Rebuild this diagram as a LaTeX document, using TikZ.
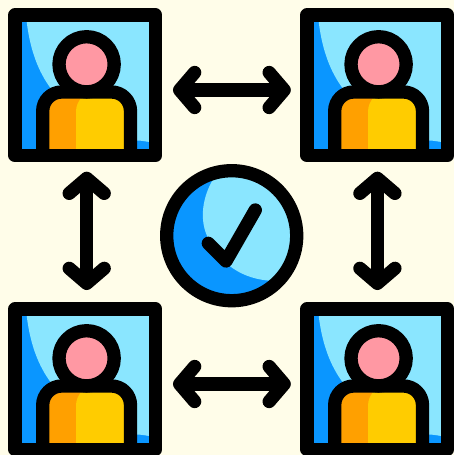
\documentclass[tikz,border=0pt]{standalone}
\usetikzlibrary{arrows.meta}
\definecolor{paper}{HTML}{FFFDE9}
\definecolor{sky}{HTML}{8AE6FF}
\definecolor{deep}{HTML}{0A96FF}
\definecolor{skin}{HTML}{FF98A3}
\definecolor{shirt}{HTML}{FFCC00}
\definecolor{sleeve}{HTML}{FFA000}
\tikzset{
  card/.pic={
    \fill[deep] (15,15) rectangle (155.5,155.5);
    \fill[sky] (26,15) .. controls (29,48) and (38,72) .. (52,90) -- (90,120)
      -- (137,140.5) .. controls (141,140.5) and (146,141.5) .. (155.5,143) -- (155.5,15) -- cycle;
    \fill[sleeve,rounded corners=19pt] (42.7,155) -- (42.7,92) -- (130.5,92) -- (130.5,155) -- cycle;
    \begin{scope}
      \clip[rounded corners=19pt] (42.7,155) -- (42.7,92) -- (130.5,92) -- (130.5,155) -- cycle;
      \fill[shirt] (76,155) -- (76,112) .. controls (76,106) and (78,101) .. (83,96) -- (135,96) -- (135,155) -- cycle;
    \end{scope}
    \draw[outline,fill=skin] (86.6,64.3) circle[radius=27.6];
    \draw[outline,rounded corners=19pt] (42.7,155) -- (42.7,92) -- (130.5,92) -- (130.5,155);
    \draw[outline] (15,15) rectangle (155.5,155.5);
    \coordinate (-e) at (173,90);
    \coordinate (-w) at (-1.2,90);
    \coordinate (-s) at (86.7,171.7);
    \coordinate (-n) at (86.7,-4);
  },
  outline/.style={black,line width=13.3pt,line join=round,line cap=round},
  link/.style={outline,line cap=butt,{Straight Barb[round,length=15pt,width=35pt]}-{Straight Barb[round,length=15pt,width=35pt]}}
}
\begin{document}
\begin{tikzpicture}[x=1pt,y=-1pt]
  \fill[paper] (0,0) rectangle (454,455);
  \useasboundingbox (0,0) rectangle (454,455);

  \pic (tl) at (0,0) {card};
  \pic (tr) at (292,0) {card};
  \pic (bl) at (0,294) {card};
  \pic (br) at (292,294) {card};

  \draw[link] (tl-e) -- (tr-w);
  \draw[link] (bl-e) -- (br-w);
  \draw[link] (tl-s) -- (bl-n);
  \draw[link] ([xshift=-1.3pt]tr-s) -- ([xshift=-1.3pt]br-n);

  % centre badge
  \begin{scope}
    \clip (231.7,235.7) circle[radius=65];
    \fill[deep] (160,164) rectangle (304,308);
    \fill[sky] (214,172) -- (214,178) .. controls (203,195) and (198,220) .. (209,240)
      .. controls (220,262) and (240,280) .. (275,281) -- (304,281) -- (304,172) -- cycle;
  \end{scope}
  \draw[outline] (231.7,235.7) circle[radius=65];
  \draw[outline] (208.3,243.3) -- (226,261) -- (255.3,210);
\end{tikzpicture}
\end{document}
